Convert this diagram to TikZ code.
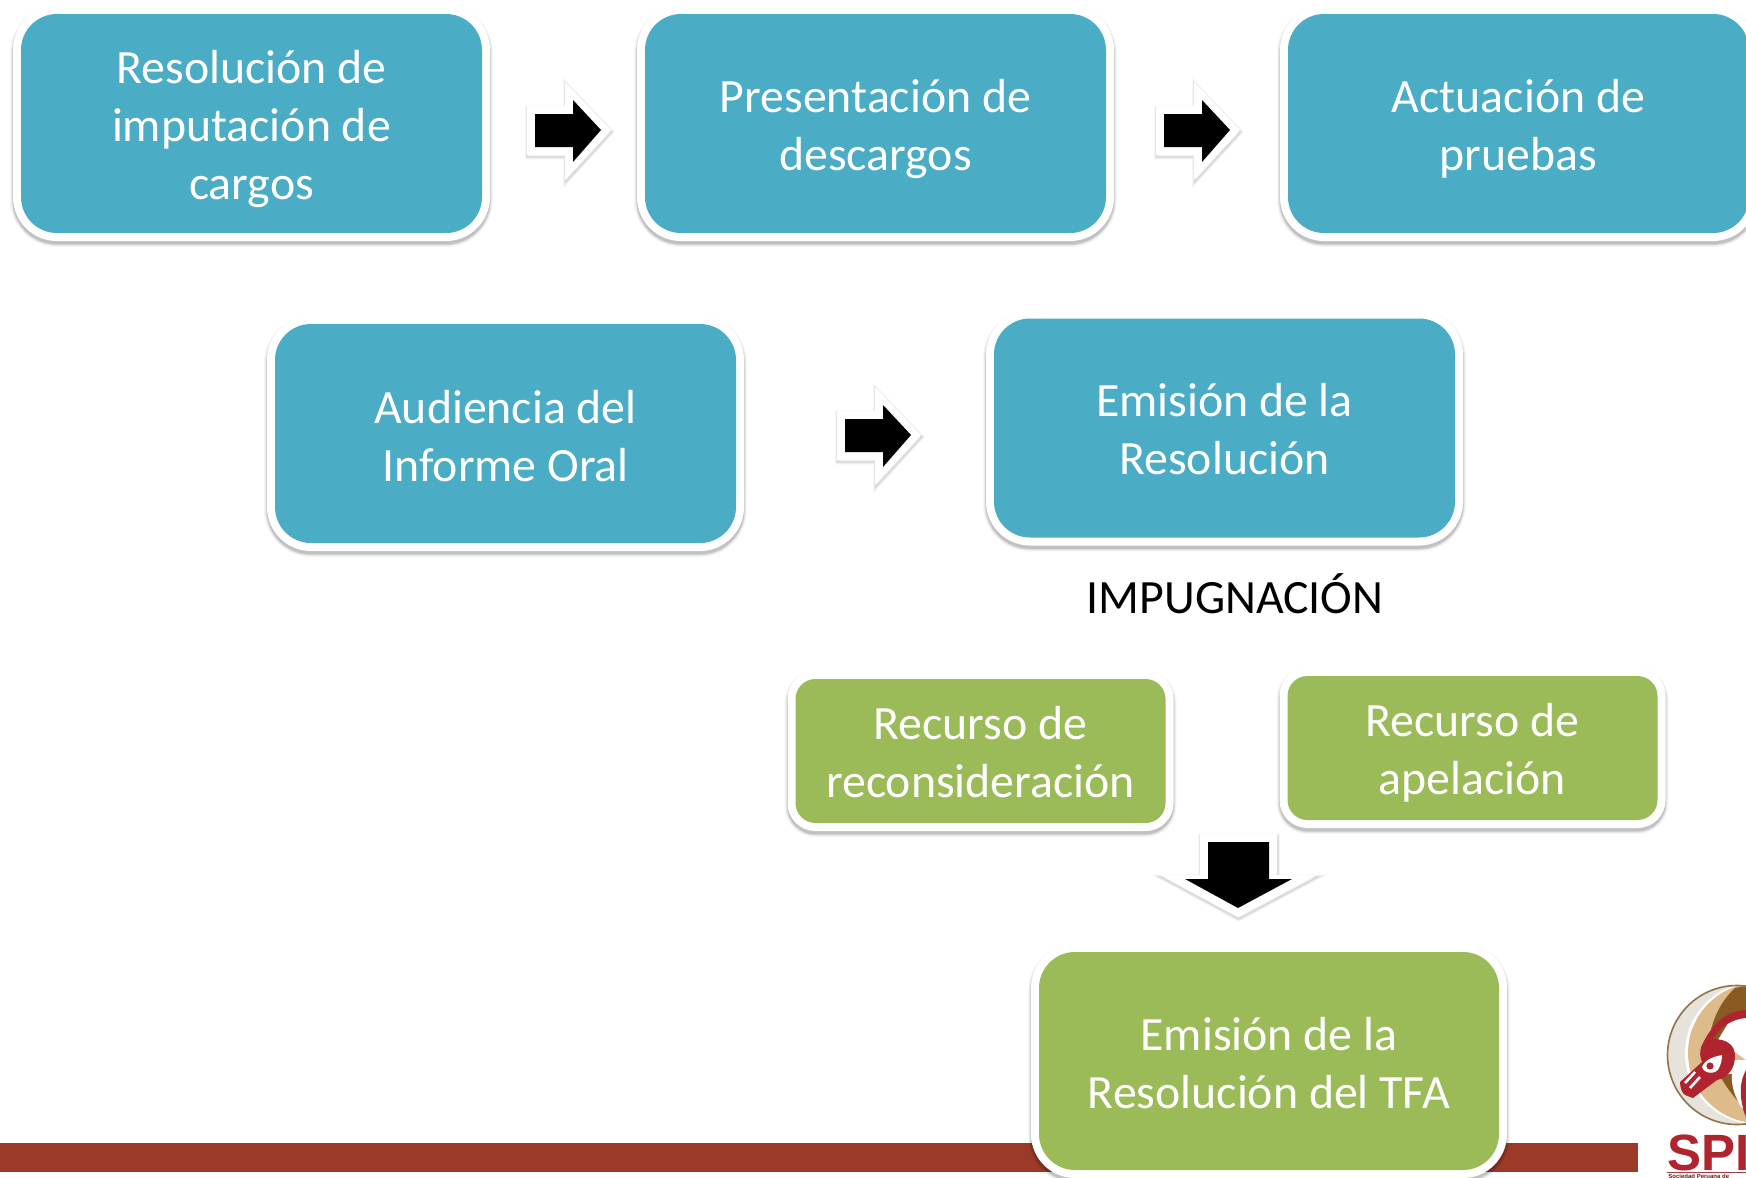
\documentclass[tikz,border=0pt]{standalone}
\usepackage{fontspec}
\setmainfont{Carlito}
\newfontfamily\logofont{Liberation Sans}
\definecolor{boxblue}{HTML}{4BACC6}
\definecolor{boxgreen}{HTML}{9BBB59}
\definecolor{barred}{HTML}{9B3A28}
\definecolor{logored}{HTML}{B0242F}
\definecolor{logotan}{HTML}{DDBB8A}
\definecolor{logobrown}{HTML}{8B5A22}
\definecolor{logopale}{HTML}{E6E3DC}
\definecolor{logoring}{HTML}{8F7448}
\tikzset{
  stage/.style={rectangle,inner sep=0pt,
    preaction={draw=black,draw opacity=.035,line width=11pt,transform canvas={yshift=-1.5pt}},
    preaction={draw=black,draw opacity=.05,line width=10pt,transform canvas={yshift=-1.5pt}},
    preaction={draw=black,draw opacity=.07,line width=9pt,transform canvas={yshift=-1.5pt}},
    preaction={draw=black,draw opacity=.10,line width=8.3pt,transform canvas={yshift=-1.5pt}},
    preaction={draw=white,line width=8pt}},
  stagetext/.style={inner sep=0pt,text=white,align=center,font=\fontsize{23.9}{29}\selectfont},
  bluebig/.style={stage,fill=boxblue,rounded corners=18pt,minimum width=230.5pt,minimum height=109.5pt},
  greenbig/.style={stage,fill=boxgreen,rounded corners=18pt,minimum width=230pt,minimum height=109pt},
  greensmall/.style={stage,fill=boxgreen,rounded corners=10pt,minimum width=185pt,minimum height=72pt},
  heading/.style={text=black,inner sep=0pt,font=\fontsize{23.9}{29}\selectfont},
  arrowback/.style={fill=white,line join=bevel,
    preaction={draw=black,draw opacity=.03,line width=2.6pt,transform canvas={xshift=.3pt,yshift=-1pt}},
    preaction={draw=black,draw opacity=.05,line width=1.6pt,transform canvas={xshift=.3pt,yshift=-1pt}},
    preaction={draw=black,draw opacity=.08,line width=.7pt,transform canvas={xshift=.3pt,yshift=-1pt}}},
  arrowfront/.style={fill=black},
}
\newcommand{\rightblock}[2]{%
  \begin{scope}[shift={(#1,#2)}]
    \path[arrowback] (-8,-24) -- (30,-24) -- (30,-48) -- (76,0) -- (30,50) -- (30,25) -- (-8,25) -- cycle;
    \path[arrowfront] (0,-16) -- (38,-16) -- (38,-30) -- (66,0) -- (38,32) -- (38,17) -- (0,17) -- cycle;
  \end{scope}}
\begin{document}
\begin{tikzpicture}[x=.5pt,y=-.5pt]
\useasboundingbox (0,0) rectangle (1746,1178);
\clip (0,0) rectangle (1746,1178);
\fill[white] (0,0) rectangle (1746,1178);
\fill[barred] (0,1143) rectangle (1638,1172);

% process boxes
\node[bluebig] (imputacion) at (251.5,123.5) {};
\node[bluebig] (descargos) at (875.5,123.5) {};
\node[bluebig] (pruebas) at (1518.5,123.5) {};
\node[bluebig] (audiencia) at (505.5,433.5) {};
\node[bluebig] (emision) at (1224.5,428) {};
\node[greensmall] (reconsideracion) at (980.5,751) {};
\node[greensmall] (apelacion) at (1472.5,748) {};
\node[greenbig] (tfa) at (1269,1061) {};

% box texts
\node[stagetext] (imputaciontext) at ([yshift=-2.8pt]imputacion.center) {Resolución de\\imputación de\\cargos};
\node[stagetext] (descargostext) at ([yshift=-2.8pt]descargos.center) {Presentación de\\descargos};
\node[stagetext] (pruebastext) at ([yshift=-2.8pt]pruebas.center) {Actuación de\\pruebas};
\node[stagetext] (audienciatext) at ([yshift=-1.1pt]audiencia.center) {Audiencia del\\Informe Oral};
\node[stagetext] (emisiontext) at ([yshift=-.4pt]emision.center) {Emisión de la\\Resolución};
\node[heading] (impugnacion) at (1235,594) {IMPUGNACIÓN};
\node[stagetext] (reconsideraciontext) at ([yshift=-.6pt]reconsideracion.center) {Recurso de\\reconsideración};
\node[stagetext] (apelaciontext) at ([yshift=-2.6pt]apelacion.center) {Recurso de\\apelación};
\node[stagetext] (tfatext) at ([yshift=-1pt]tfa.center) {Emisión de la\\Resolución del TFA};

% block arrows
\rightblock{535}{130}
\rightblock{1164}{130}
\rightblock{845}{435}
\path[arrowback] (1200,834) -- (1277,834) -- (1277,875) -- (1317,875) -- (1238,917) -- (1160,875) -- (1200,875) -- cycle;
\path[arrowfront] (1208,842) -- (1269,842) -- (1269,879) -- (1292,879) -- (1238,908) -- (1185,879) -- (1208,879) -- cycle;

% logo
\begin{scope}
  \fill[logopale] (1737,1055) circle (69.5);
  \begin{scope}
    \clip (1737,1055) circle (69.5);
    \fill[white] (1756,1053) circle (71);
    \fill[logotan] (1758,1053) circle (70);
    \fill[logobrown] (1746,986) -- (1735,988) .. controls (1720,1002) and (1712,1020) .. (1709,1040) -- (1746,1040) -- cycle;
    \fill[white] (1746,1016) -- (1730,1020) -- (1718,1040) -- (1746,1060) -- cycle;
    \fill[white] (1725,1060) rectangle (1746,1080);
    \fill[logobrown] (1720,1076) -- (1740,1072) -- (1746,1118) -- (1742,1106) .. controls (1735,1098) and (1728,1090) .. (1720,1076) -- cycle;
    \fill[white] (1733,1066) .. controls (1729,1085) and (1736,1098) .. (1741,1107) -- (1746,1110) -- (1746,1066) -- cycle;
  \end{scope}
  \draw[logoring,line width=.8pt] (1737,1055) circle (69.5);
  % red bird: crest arch, head, beak
  \fill[logored] (1746,1010) .. controls (1726,1011) and (1712,1024) .. (1702,1045)
     .. controls (1699,1052) and (1700,1057) .. (1702,1062)
     -- (1680,1082) .. controls (1680,1088) and (1682,1093) .. (1685,1095)
     -- (1693,1098) -- (1717,1080)
     .. controls (1728,1078) and (1735,1068) .. (1735,1056)
     .. controls (1735,1046) and (1728,1039) .. (1713,1039)
     .. controls (1720,1027) and (1732,1019) .. (1746,1018) -- cycle;
  \fill[logored] (1746,1070) .. controls (1740,1080) and (1738,1098) .. (1746,1116) -- cycle;
  % eye and beak marks
  \fill[white] (1722,1055) .. controls (1712,1057) and (1705,1060) .. (1702,1067)
     .. controls (1704,1074) and (1716,1075) .. (1719,1068)
     .. controls (1721,1064) and (1722,1060) .. (1722,1055) -- cycle;
  \fill[logored] (1710,1066) circle (3.6);
  \draw[white,line width=1.3pt] (1685,1083) -- (1695,1072);
  \draw[white,line width=1.3pt] (1690,1088) -- (1700,1077);
\end{scope}
\node[anchor=base west,inner sep=0pt,text=logored,font=\logofont\bfseries\fontsize{25.5}{25.5}\selectfont] (spi) at (1667,1170) {SPI};
\draw[logored!70!gray,line width=.4pt] (1667,1172.8) -- (1746,1172.8);
\node[anchor=base west,inner sep=0pt,text=logored!60!black,font=\logofont\bfseries\fontsize{3}{3}\selectfont] (spiname) at (1668,1178) {Sociedad Peruana de};
\end{tikzpicture}
\end{document}
